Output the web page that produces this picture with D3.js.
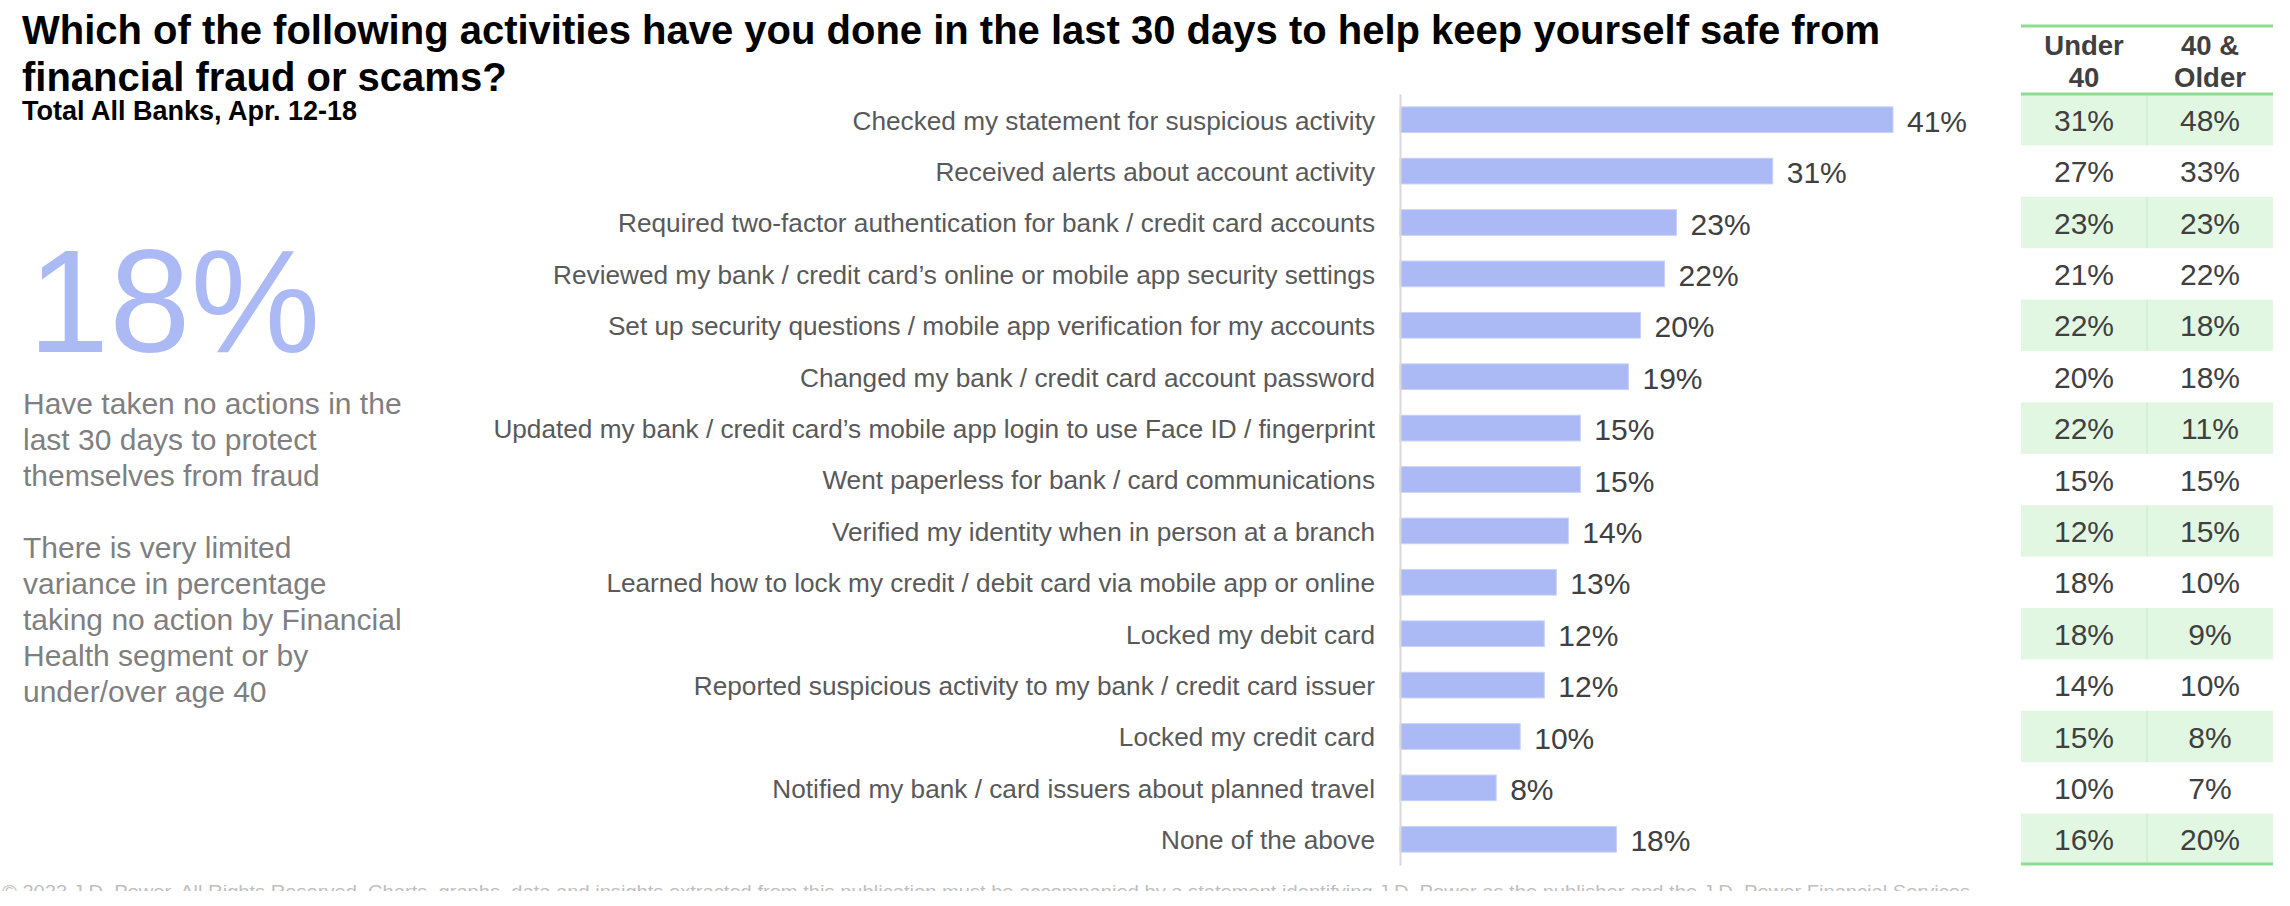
<!DOCTYPE html>
<html>
<head>
<meta charset="utf-8">
<script src="https://cdn.jsdelivr.net/npm/d3@7"></script>
<style>
  html, body { margin: 0; padding: 0; background: #fff; }
  svg { display: block; font-family: "Liberation Sans", Arial, sans-serif; }
</style>
</head>
<body>
<script>
var categories = [
  "Checked my statement for suspicious activity",
  "Received alerts about account activity",
  "Required two-factor authentication for bank / credit card accounts",
  "Reviewed my bank / credit card\u2019s online or mobile app security settings",
  "Set up security questions / mobile app verification for my accounts",
  "Changed my bank / credit card account password",
  "Updated my bank / credit card\u2019s mobile app login to use Face ID / fingerprint",
  "Went paperless for bank / card communications",
  "Verified my identity when in person at a branch",
  "Learned how to lock my credit / debit card via mobile app or online",
  "Locked my debit card",
  "Reported suspicious activity to my bank / credit card issuer",
  "Locked my credit card",
  "Notified my bank / card issuers about planned travel",
  "None of the above"
];
var totalValues = [41, 31, 23, 22, 20, 19, 15, 15, 14, 13, 12, 12, 10, 8, 18];
var under40Values = [31, 27, 23, 21, 22, 20, 22, 15, 12, 18, 18, 14, 15, 10, 16];
var older40Values = [48, 33, 23, 22, 18, 18, 11, 15, 15, 10, 9, 10, 8, 7, 20];
var tableHeaders = [["Under", "40"], ["40 &", "Older"]];
var titleLines = [
  "Which of the following activities have you done in the last 30 days to help keep yourself safe from",
  "financial fraud or scams?"
];
var subtitle = "Total All Banks, Apr. 12-18";
var bigStat = "18%";
var noteParas = [
  ["Have taken no actions in the", "last 30 days to protect", "themselves from fraud"],
  ["There is very limited", "variance in percentage", "taking no action by Financial", "Health segment or by", "under/over age 40"]
];
var footer = "\u00a9 2023 J.D. Power. All Rights Reserved. Charts, graphs, data and insights extracted from this publication must be accompanied by a statement identifying J.D. Power as the publisher and the J.D. Power Financial Services";

var W = 2290, H = 906;
var AXIS_X = 1400, TOP = 94, BOTTOM = 865;
var BAR_COLOR = "#abbaf5";
var GREEN_LINE = "#8edc8e";
var GREEN_FILL = "#e2f7e2";

var svg = d3.select("body").append("svg")
  .attr("width", W)
  .attr("height", H);

// title block
var title = svg.append("text")
  .attr("x", 22)
  .attr("font-size", "40px")
  .attr("font-weight", "bold")
  .attr("fill", "#000");
title.selectAll("tspan")
  .data(titleLines)
  .enter()
  .append("tspan")
  .attr("x", 22)
  .attr("y", function (d, i) { return 44 + i * 47; })
  .text(function (d) { return d; });

svg.append("text")
  .attr("x", 22)
  .attr("y", 120)
  .attr("font-size", "27px")
  .attr("font-weight", "bold")
  .attr("fill", "#000")
  .text(subtitle);

// left call-out
svg.append("text")
  .attr("x", 28)
  .attr("y", 352)
  .attr("font-size", "146px")
  .attr("fill", BAR_COLOR)
  .text(bigStat);

var paraTop = [414, 558];
noteParas.forEach(function (lines, p) {
  svg.append("g").selectAll("text")
    .data(lines)
    .enter()
    .append("text")
    .attr("x", 23)
    .attr("y", function (d, i) { return paraTop[p] + i * 36; })
    .attr("font-size", "30px")
    .attr("fill", "#7f7f7f")
    .text(function (d) { return d; });
});

// bars
var x = d3.scaleLinear()
  .domain([0, 41])
  .range([AXIS_X, 1893]);
var y = d3.scaleBand()
  .domain(categories)
  .range([TOP, BOTTOM])
  .paddingInner(0.5)
  .paddingOuter(0.25);
var row = d3.scaleBand()
  .domain(categories)
  .range([TOP, BOTTOM]);

svg.append("g")
  .selectAll("rect")
  .data(totalValues)
  .enter()
  .append("rect")
  .attr("x", x(0))
  .attr("y", function (d, i) { return y(categories[i]); })
  .attr("width", function (d) { return x(d) - x(0); })
  .attr("height", y.bandwidth())
  .attr("fill", BAR_COLOR)
  .attr("stroke", "#c9d2f8")
  .attr("stroke-width", 1);

svg.append("g")
  .selectAll("text")
  .data(totalValues)
  .enter()
  .append("text")
  .attr("x", function (d) { return x(d) + 14; })
  .attr("y", function (d, i) { return y(categories[i]) + y.bandwidth() / 2 + 12; })
  .attr("font-size", "30px")
  .attr("fill", "#404040")
  .text(function (d) { return d + "%"; });

var axis = svg.append("g")
  .attr("transform", "translate(" + AXIS_X + ",0)")
  .call(d3.axisLeft(row).tickSize(0).tickPadding(25));
axis.select(".domain")
  .attr("stroke", "#d9d9d9")
  .attr("stroke-width", 2);
axis.selectAll(".tick text")
  .attr("font-family", "\"Liberation Sans\", Arial, sans-serif")
  .attr("font-size", "26.2px")
  .attr("fill", "#595959")
  .attr("dy", "0.38em");

// age table
var col = d3.scaleBand()
  .domain([0, 1])
  .range([2021, 2273]);
var tableRows = categories.map(function (c, i) { return [under40Values[i], older40Values[i]]; });

var table = svg.append("g");
table.selectAll("rect.shade")
  .data(categories.filter(function (d, i) { return i % 2 === 0; }))
  .enter()
  .append("rect")
  .attr("class", "shade")
  .attr("x", col.range()[0])
  .attr("y", function (d) { return row(d); })
  .attr("width", col.range()[1] - col.range()[0])
  .attr("height", row.bandwidth())
  .attr("fill", GREEN_FILL);
table.selectAll("line.div")
  .data(categories.filter(function (d, i) { return i % 2 === 0; }))
  .enter()
  .append("line")
  .attr("class", "div")
  .attr("x1", col(1))
  .attr("x2", col(1))
  .attr("y1", function (d) { return row(d); })
  .attr("y2", function (d) { return row(d) + row.bandwidth(); })
  .attr("stroke", "#c4ecc4")
  .attr("stroke-width", 1);

tableRows.forEach(function (vals, i) {
  table.selectAll(null)
    .data(vals)
    .enter()
    .append("text")
    .attr("x", function (d, j) { return col(j) + col.bandwidth() / 2; })
    .attr("y", row(categories[i]) + row.bandwidth() / 2 + 11)
    .attr("text-anchor", "middle")
    .attr("font-size", "30px")
    .attr("fill", "#404040")
    .text(function (d) { return d + "%"; });
});

tableHeaders.forEach(function (lines, j) {
  table.selectAll(null)
    .data(lines)
    .enter()
    .append("text")
    .attr("x", col(j) + col.bandwidth() / 2)
    .attr("y", function (d, i) { return 55 + i * 32; })
    .attr("text-anchor", "middle")
    .attr("font-size", "27.5px")
    .attr("font-weight", "bold")
    .attr("fill", "#404040")
    .text(function (d) { return d; });
});

table.selectAll("line.rule")
  .data([26, TOP, BOTTOM - 1])
  .enter()
  .append("line")
  .attr("class", "rule")
  .attr("x1", col.range()[0])
  .attr("x2", col.range()[1])
  .attr("y1", function (d) { return d; })
  .attr("y2", function (d) { return d; })
  .attr("stroke", GREEN_LINE)
  .attr("stroke-width", 3);

// footer, cut off at the slide edge
svg.append("clipPath")
  .attr("id", "footclip")
  .append("rect")
  .attr("x", 0)
  .attr("y", 878)
  .attr("width", W)
  .attr("height", 13);
svg.append("text")
  .attr("clip-path", "url(#footclip)")
  .attr("x", 2)
  .attr("y", 898)
  .attr("font-size", "19px")
  .attr("fill", "#bfbfbf")
  .attr("textLength", 1968)
  .attr("lengthAdjust", "spacingAndGlyphs")
  .text(footer);
</script>
</body>
</html>
